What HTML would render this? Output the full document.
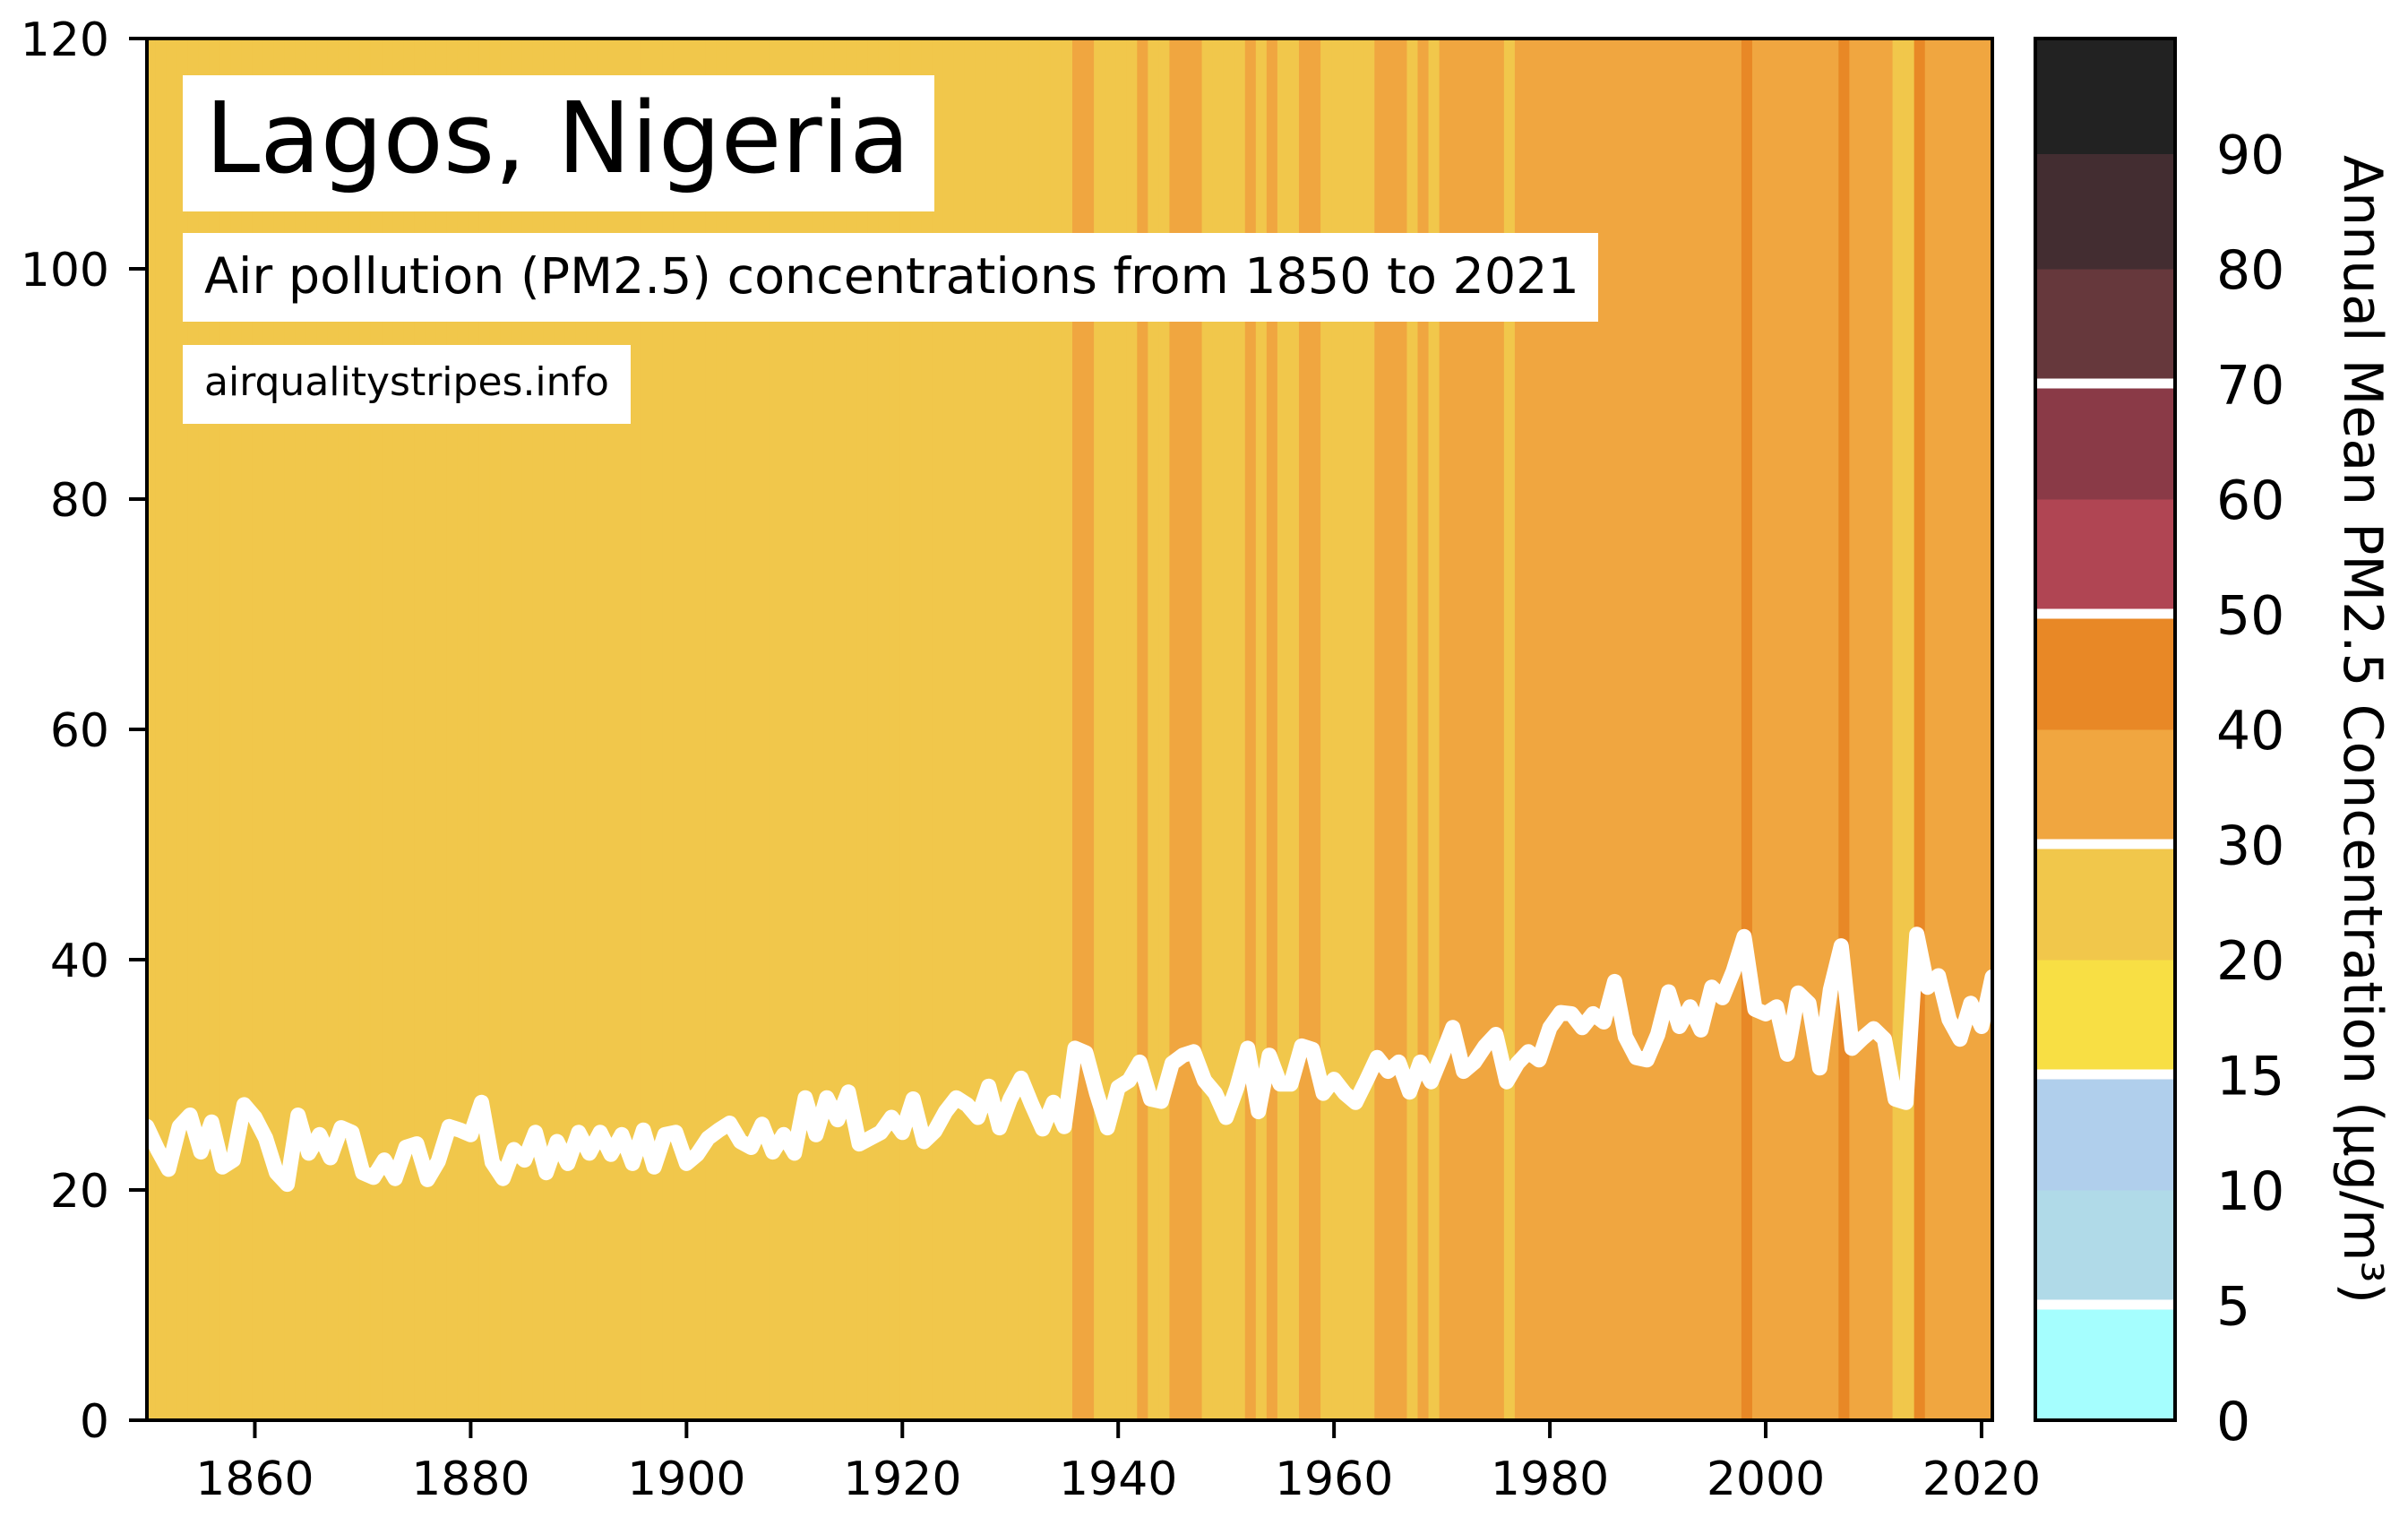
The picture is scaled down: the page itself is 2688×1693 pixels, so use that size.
<!DOCTYPE html>
<html><head><meta charset="utf-8"><style>
html,body{margin:0;padding:0;background:#fff;}
svg{display:block;font-family:"DejaVu Sans","Liberation Sans",sans-serif;}
</style></head><body>
<svg id="chart" width="2688" height="1693" viewBox="0 0 2688 1693" xmlns="http://www.w3.org/2000/svg">
<defs><clipPath id="plotclip"><rect x="164" y="43" width="2060" height="1542"/></clipPath></defs>
<g id="stripes" clip-path="url(#plotclip)"></g>
<polyline id="pmline" fill="none" stroke="#fff" stroke-width="17" stroke-linejoin="round" stroke-linecap="round" clip-path="url(#plotclip)"/>
<rect x="164" y="43" width="2060" height="1542" fill="none" stroke="#000" stroke-width="4"/>
<g id="yaxis"></g>
<g id="xaxis"></g>
<rect x="204" y="84" width="839" height="152" fill="#fff"/>
<text x="229" y="192" font-size="110" fill="#000">Lagos, Nigeria</text>
<rect x="204" y="260" width="1580" height="99" fill="#fff"/>
<text x="228" y="327" font-size="55.5" fill="#000">Air pollution (PM2.5) concentrations from 1850 to 2021</text>
<rect x="204" y="385" width="500" height="88" fill="#fff"/>
<text x="228" y="441" font-size="44" fill="#000">airqualitystripes.info</text>
<g id="cbar"></g>
<text transform="translate(2617,814) rotate(90)" text-anchor="middle" font-size="60" fill="#000">Annual Mean PM2.5 Concentration (μg/m³)</text>
</svg>
<script>
const years = [];
for (let y = 1850; y <= 2021; y++) years.push(y);
const pm25 = [
25.5,23.5,21.8,25.5,26.5,23.3,25.9,22.0,22.6,27.4,26.3,24.5,21.5,20.5,26.5,23.2,24.8,22.8,25.4,25.0,21.5,21.1,22.6,21.0,23.7,24.0,20.9,22.5,25.5,25.2,24.8,27.6,22.4,21.0,23.5,
22.6,25.0,21.5,24.2,22.3,25.0,23.2,25.0,23.1,24.8,22.3,25.2,22.0,24.8,25.0,22.3,23.1,24.5,25.2,25.8,24.2,23.7,25.7,23.3,24.8,23.2,28.0,24.8,28.0,26.1,28.5,24.0,24.5,25.0,26.3,
25.0,27.9,24.2,25.1,26.8,28.0,27.4,26.3,29.0,25.4,27.9,29.7,27.4,25.3,27.6,25.5,32.3,31.9,28.4,25.4,28.9,29.5,31.1,27.9,27.7,31.0,31.7,32.0,29.5,28.4,26.3,28.9,32.3,26.8,31.7,
29.2,29.2,32.5,32.2,28.4,29.6,28.4,27.6,29.5,31.5,30.3,31.1,28.5,31.1,29.4,31.7,34.1,30.3,31.1,32.5,33.5,29.4,31.0,32.0,31.3,34.1,35.4,35.3,34.1,35.3,34.6,38.1,33.3,31.5,31.3,
33.5,37.2,34.2,35.9,33.9,37.6,36.7,39.0,42.0,35.7,35.3,35.9,31.8,37.1,36.2,30.6,37.4,41.2,32.3,33.2,34.0,33.1,27.9,27.6,42.2,37.6,38.6,34.8,33.1,36.2,34.2,38.5];
const binEdges = [0,5,10,15,20,30,40,50,60,70,80,90,100];
const binColors = ["#a5fefe","#b0dae8","#b0cfec","#f8df44","#f1c74b","#f0a640","#e88826","#b04553","#8a3a47","#66383c","#432d31","#222222"];
const guideLines = [5,15,30,50,70];
const yTicks = [0,20,40,60,80,100,120];
const xTicks = [1860,1880,1900,1920,1940,1960,1980,2000,2020];
const cbTicks = [0,5,10,15,20,30,40,50,60,70,80,90];

const NS = "http://www.w3.org/2000/svg";
const X0 = 164, X1 = 2224, Y0 = 1585, Y1 = 43;
const xMin = 1850, xMax = 2021;
function xs(yr){ return X0 + (yr - xMin) * (X1 - X0) / (xMax - xMin); }
function ys(v){ return Y0 - v * (Y0 - Y1) / 120; }
function colorFor(v){
  for (let i = 0; i < binColors.length; i++) if (v < binEdges[i+1]) return binColors[i];
  return binColors[binColors.length-1];
}
function cbY(v){
  let i = 0;
  while (i < binEdges.length - 2 && v > binEdges[i+1]) i++;
  const seg = (Y0 - Y1) / (binEdges.length - 1);
  const f = (v - binEdges[i]) / (binEdges[i+1] - binEdges[i]);
  return Y0 - (i + f) * seg;
}
function mk(tag, attrs){ const e = document.createElementNS(NS, tag); for (const k in attrs) e.setAttribute(k, attrs[k]); return e; }

const sg = document.getElementById("stripes");
const w = (X1 - X0) / (xMax - xMin);
years.forEach((yr, i) => {
  const r = mk("rect", {x: xs(yr) - w*0.25, y: Y1, width: w + 0.8, height: Y0 - Y1, fill: colorFor(pm25[i])});
  
  
  sg.appendChild(r);
});
document.getElementById("pmline").setAttribute("points", years.map((yr, i) => xs(yr).toFixed(1) + "," + ys(pm25[i]).toFixed(1)).join(" "));

const ya = document.getElementById("yaxis");
yTicks.forEach(t => {
  const l = mk("line", {x1: 144, x2: 164, y1: ys(t), y2: ys(t), stroke: "#000", "stroke-width": 4});
  
  
  ya.appendChild(l);
  const tx = mk("text", {x: 122, y: ys(t) + 19, "text-anchor": "end", "font-size": 52});
  
  
  tx.textContent = t; ya.appendChild(tx);
});
const xa = document.getElementById("xaxis");
xTicks.forEach(t => {
  const l = mk("line", {x1: xs(t), x2: xs(t), y1: 1585, y2: 1605, stroke: "#000", "stroke-width": 4});
  
  
  xa.appendChild(l);
  const tx = mk("text", {x: xs(t), y: 1668, "text-anchor": "middle", "font-size": 52});
  
  
  tx.textContent = t; xa.appendChild(tx);
});

const cb = document.getElementById("cbar");
const CX0 = 2272, CX1 = 2428;
binColors.forEach((c, i) => {
  const yTop = cbY(binEdges[i+1]), yBot = cbY(binEdges[i]);
  const r = mk("rect", {x: CX0, y: yTop, width: CX1 - CX0, height: yBot - yTop + 0.5, fill: c});
  
  
  cb.appendChild(r);
});
guideLines.forEach(g => {
  const r = mk("rect", {x: CX0, y: cbY(g) - 6, width: CX1 - CX0, height: 11, fill: "#fff"});
  
  
  cb.appendChild(r);
});
const fr = mk("rect", {x: CX0, y: Y1, width: CX1 - CX0, height: Y0 - Y1, fill: "none", stroke: "#000", "stroke-width": 4});


cb.appendChild(fr);
cbTicks.forEach(t => {
  const tx = mk("text", {x: 2474, y: cbY(t) + 22, "font-size": 60});
  
  
  tx.textContent = t; cb.appendChild(tx);
});
</script>
</body></html>
